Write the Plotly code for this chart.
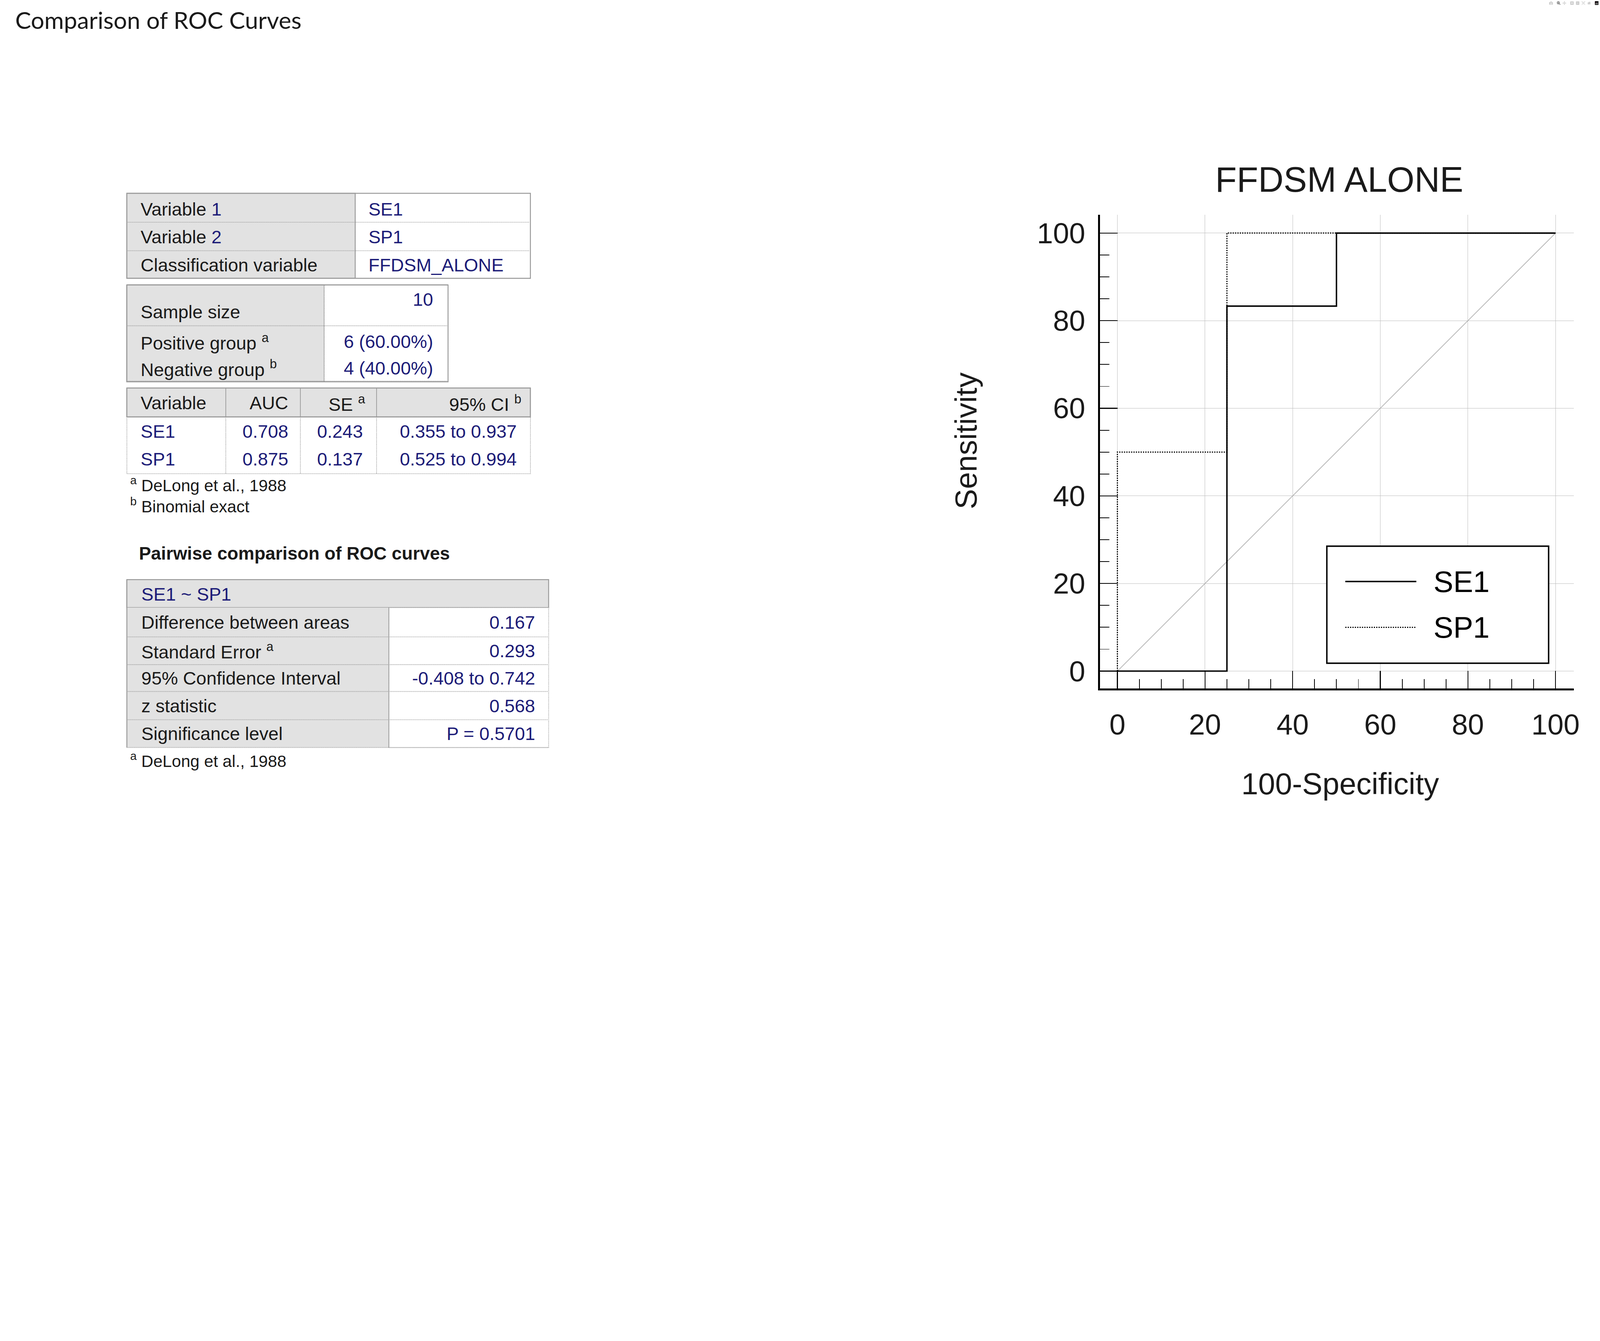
import plotly.graph_objects as go

W, H = 6736, 3434
def X(p): return p / W
def Y(p): return 1 - p / H

# ---- data ----
se1_x = [0, 25, 25, 50, 50, 100]
se1_y = [0, 0, 83.33, 83.33, 100, 100]
sp1_x = [0, 0, 25, 25, 100]
sp1_y = [0, 50, 50, 100, 100]
diag = [0, 100]
ticks = [0, 20, 40, 60, 80, 100]

t1_labels = ["Variable <span style='color:#1c1c78'>1</span>", "Variable <span style='color:#1c1c78'>2</span>", "Classification variable"]
t1_values = ["SE1", "SP1", "FFDSM_ALONE"]
t2_labels = ["Sample size", "Positive group <sup>a</sup>", "Negative group <sup>b</sup>"]
t2_values = ["10", "6 (60.00%)", "4 (40.00%)"]
t3_header = ["Variable", "AUC", "SE <sup>a</sup>", "95% CI <sup>b</sup>"]
t3_vars = ["SE1", "SP1"]
t3_auc = ["0.708", "0.875"]
t3_se = ["0.243", "0.137"]
t3_ci = ["0.355 to 0.937", "0.525 to 0.994"]
t4_title = "SE1 ~ SP1"
t4_labels = ["Difference between areas", "Standard Error <sup>a</sup>", "95% Confidence Interval", "z statistic", "Significance level"]
t4_values = ["0.167", "0.293", "-0.408 to 0.742", "0.568", "P = 0.5701"]

BLUE = "#1c1c78"
TXT = "#1a1a1a"
GRAYF = "#e2e2e2"
BORD = "#9a9a9a"
FS = 77
FONT = "Liberation Sans, Arial"

fig = go.Figure()
fig.add_trace(go.Scatter(x=diag, y=diag, mode="lines", line=dict(color="#b0b0b0", width=3), showlegend=False, hoverinfo="skip"))
fig.add_trace(go.Scatter(x=sp1_x, y=sp1_y, mode="lines", line=dict(color="black", width=5, dash="dot"), name="SP1", showlegend=False))
fig.add_trace(go.Scatter(x=se1_x, y=se1_y, mode="lines", line=dict(color="black", width=6), name="SE1", showlegend=False))

shapes = []
ann = []

def rect(x0, y0, x1, y1, fill=None, line=BORD, lw=4, dash="solid"):
    shapes.append(dict(type="rect", xref="paper", yref="paper", x0=X(x0), x1=X(x1), y0=Y(y1), y1=Y(y0),
                       fillcolor=fill if fill else "rgba(0,0,0,0)", line=dict(color=line, width=lw, dash=dash), layer="below"))

def hline(x0, x1, y, dash="dot", color=BORD, lw=3):
    shapes.append(dict(type="line", xref="paper", yref="paper", x0=X(x0), x1=X(x1), y0=Y(y), y1=Y(y),
                       line=dict(color=color, width=lw, dash=dash)))

def vline(x, y0, y1, dash="dot", color=BORD, lw=3):
    shapes.append(dict(type="line", xref="paper", yref="paper", x0=X(x), x1=X(x), y0=Y(y0), y1=Y(y1),
                       line=dict(color=color, width=lw, dash=dash)))

def text(t, x, y, anchor="left", color=TXT, size=FS, bold=False, font=FONT):
    if bold:
        t = "<b>" + t + "</b>"
    ann.append(dict(text=t, x=X(x), y=Y(y), xref="paper", yref="paper", showarrow=False,
                    xanchor=anchor, yanchor="middle", font=dict(family=font, size=size, color=color)))

# page title
text("Comparison of ROC Curves", 62, 82, size=100, font="Lato, Open Sans")

# table 1
rect(536, 814, 1501, 1172, fill=GRAYF)
rect(1501, 814, 2241, 1172, fill="white", dash="dot", lw=3)
rect(536, 814, 2241, 1172, lw=4)
for yy in [936, 1056]:
    hline(540, 2238, yy)
vline(1501, 814, 1172, dash="solid", lw=3)
for i, yy in enumerate([880, 998, 1116]):
    text(t1_labels[i], 592, yy)
    text(t1_values[i], 1555, yy, color=BLUE)

# table 2
rect(536, 1200, 1370, 1608, fill=GRAYF)
rect(1370, 1200, 1893, 1608, fill="white", dash="dot", lw=3)
rect(536, 1200, 1893, 1608, lw=4)
hline(540, 1890, 1372)
hline(540, 1890, 1605)
vline(1893, 1200, 1608)
vline(536, 1200, 1608, dash="solid", lw=4)
shapes.append(dict(type="line", xref="paper", yref="paper", x0=X(536), x1=X(1893), y0=Y(1200), y1=Y(1200), line=dict(color=BORD, width=4)))
for i, yy in enumerate([1314, 1439, 1550]):
    text(t2_labels[i], 592, yy)
text(t2_values[0], 1833, 1261, anchor="right", color=BLUE)
text(t2_values[1], 1833, 1439, anchor="right", color=BLUE)
text(t2_values[2], 1833, 1550, anchor="right", color=BLUE)

# table 3
rect(536, 1634, 2241, 1756, fill=GRAYF)
rect(536, 1756, 2241, 1995, fill="white", dash="dot", lw=3)
rect(536, 1634, 2241, 1756, lw=4)
cols = [536, 954, 1269, 1591, 2241]
for cx in cols[1:-1]:
    vline(cx, 1634, 1756, dash="solid", lw=3)
    vline(cx, 1756, 1995)
text(t3_header[0], 592, 1697)
text(t3_header[1], 1220, 1697, anchor="right")
text(t3_header[2], 1545, 1697, anchor="right")
text(t3_header[3], 2205, 1697, anchor="right")
for i, yy in enumerate([1817, 1933]):
    text(t3_vars[i], 592, yy, color=BLUE)
    text(t3_auc[i], 1220, yy, anchor="right", color=BLUE)
    text(t3_se[i], 1535, yy, anchor="right", color=BLUE)
    text(t3_ci[i], 2185, yy, anchor="right", color=BLUE)
text("<sup>a</sup> DeLong et al., 1988", 548, 2039, size=70)
text("<sup>b</sup> Binomial exact", 548, 2128, size=70)

# pairwise
text("Pairwise comparison of ROC curves", 585, 2330, bold=True, size=76)
rect(536, 2441, 2318, 2559, fill=GRAYF, lw=4)
rect(536, 2559, 1643, 3148, fill=GRAYF, lw=0)
rect(1643, 2559, 2318, 3148, fill="white", dash="dot", lw=3)
vline(536, 2441, 3148, dash="solid", lw=4)
vline(1643, 2559, 3148, dash="solid", lw=3)
rows_b = [2559, 2682, 2799, 2912, 3031, 3148]
for yy in rows_b[1:-1]:
    hline(540, 2315, yy)
hline(536, 2318, 3148)
text(t4_title, 595, 2502, color=BLUE)
for i in range(5):
    yy = (rows_b[i] + rows_b[i + 1]) / 2
    text(t4_labels[i], 595, yy)
    text(t4_values[i], 2263, yy, anchor="right", color=BLUE)
text("<sup>a</sup> DeLong et al., 1988", 548, 3200, size=70)

# ROC text
text("FFDSM ALONE", 5658, 756, anchor="center", size=148, font="Liberation Sans, Arial")
text("100-Specificity", 5662, 3300, anchor="center", size=128, font="Liberation Sans, Arial")
ann.append(dict(text="Sensitivity", x=X(4081), y=Y(1856), xref="paper", yref="paper", showarrow=False,
                textangle=-90, font=dict(family="Liberation Sans, Arial", size=128, color=TXT)))

# legend (manual)
shapes.append(dict(type="rect", xref="paper", yref="paper", x0=X(5606), x1=X(6543), y0=Y(2793), y1=Y(2300),
                   fillcolor="white", line=dict(color="black", width=6), layer="above"))
shapes.append(dict(type="line", xref="paper", yref="paper", x0=X(5684), x1=X(5984), y0=Y(2449), y1=Y(2449),
                   line=dict(color="black", width=6), layer="above"))
shapes.append(dict(type="line", xref="paper", yref="paper", x0=X(5684), x1=X(5984), y0=Y(2642), y1=Y(2642),
                   line=dict(color="black", width=5, dash="dot"), layer="above"))
text("SE1", 6055, 2449, size=125, font="Liberation Sans, Arial", color="black")
text("SP1", 6055, 2642, size=125, font="Liberation Sans, Arial", color="black")

axcommon = dict(range=[-4, 104.2], tickvals=ticks, showgrid=True, gridcolor="#bdbdbd", gridwidth=2,
                zeroline=False, showline=True, linecolor="black", linewidth=7,
                ticks="inside", ticklen=75, tickwidth=4, tickcolor="black",
                tickfont=dict(family="Liberation Sans, Arial", size=122, color=TXT),
                minor=dict(dtick=5, ticks="inside", ticklen=40, tickwidth=3, tickcolor="black", showgrid=False))

fig.update_layout(
    width=W, height=H, margin=dict(l=0, r=0, t=0, b=0),
    paper_bgcolor="white", plot_bgcolor="white",
    xaxis=dict(domain=[X(4647), X(6650)], **axcommon),
    yaxis=dict(domain=[Y(2900), Y(904)], **axcommon),
    shapes=shapes, annotations=ann, showlegend=False,
)
fig.update_xaxes(ticklabelstandoff=40)
fig.update_yaxes(ticklabelstandoff=30)

post = """
document.documentElement.style.margin='0';
document.body.style.margin='0';
document.body.style.overflow='hidden';
var gd=document.getElementById('{plot_id}');
var s=Math.min(window.innerWidth/6736, window.innerHeight/3434);
if (Math.abs(s-1) > 0.01) {
  gd.style.transformOrigin='0 0';
  gd.style.transform='scale('+s+')';
}
"""
fig.write_html("out.html", post_script=post)
